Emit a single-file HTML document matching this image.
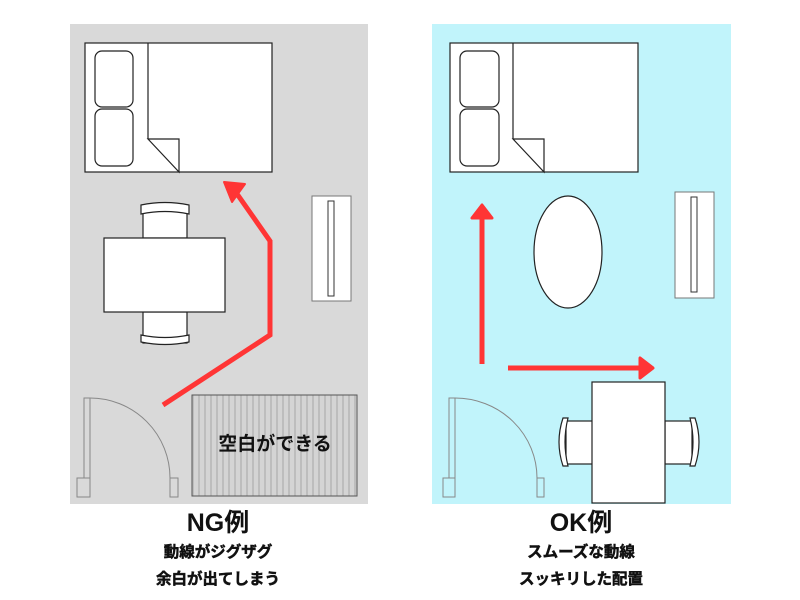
<!DOCTYPE html>
<html><head><meta charset="utf-8"><style>
body{margin:0;background:#fff;}
svg{display:block;}
text{font-family:"Liberation Sans","Noto Sans CJK JP",sans-serif;font-weight:bold;fill:#111;}
.sub{stroke:#111;stroke-width:0.5;}
</style></head><body>
<svg width="800" height="600" viewBox="0 0 800 600" xmlns="http://www.w3.org/2000/svg">
<defs>
<pattern id="hat" width="6" height="10" patternUnits="userSpaceOnUse">
<rect width="6" height="10" fill="#d4d4d4"/><rect width="2" height="10" fill="#bdbdbd"/>
</pattern>
</defs>
<rect x="70" y="24" width="298" height="480" fill="#d9d9d9"/>
<rect x="432" y="24" width="299" height="480" fill="#c1f4fb"/>

<!-- LEFT -->
<g stroke="#222" stroke-width="1.2" fill="#fff">
<rect x="85" y="43" width="187" height="129"/>
<line x1="148" y1="43" x2="148" y2="139"/>
<rect x="95" y="51" width="38" height="56" rx="7"/>
<rect x="95" y="109" width="38" height="57" rx="7"/>
<path d="M148 139 H179 V172 Z"/>
<rect x="143" y="207" width="44" height="31"/>
<path d="M141 205 Q165 200 189 205 V214 Q165 209 141 214 Z"/>
<rect x="143" y="312" width="44" height="31"/>
<path d="M141 342 Q165 347 189 342 V335 Q165 340 141 335 Z"/>
<rect x="104" y="238" width="121" height="74"/>
</g>
<rect x="312" y="196" width="39" height="105" fill="#fff" stroke="#777"/>
<rect x="328" y="201" width="6" height="95" fill="#fff" stroke="#333"/>
<g stroke="#888" fill="none" stroke-width="1">
<rect x="84" y="398" width="6" height="80"/>
<rect x="77" y="478" width="13" height="19"/>
<rect x="170" y="478" width="8" height="19"/>
<path d="M90 398 A80 80 0 0 1 170 478"/>
</g>
<rect x="192" y="395" width="165" height="101" fill="url(#hat)" stroke="#555"/>
<text x="275" y="450" font-size="19" text-anchor="middle">空白ができる</text>
<polyline points="163,405 270,335 270,241 235,191" fill="none" stroke="#ff3535" stroke-width="5"/>
<polygon points="224,182 245,184 232,202" fill="#ff3535" stroke="#ff3535" stroke-width="2" stroke-linejoin="round"/>

<!-- RIGHT -->
<g stroke="#222" stroke-width="1.2" fill="#fff">
<rect x="450" y="43" width="188" height="129"/>
<line x1="513" y1="43" x2="513" y2="139"/>
<rect x="460" y="51" width="39" height="56" rx="7"/>
<rect x="460" y="109" width="39" height="57" rx="7"/>
<path d="M513 139 H544 V172 Z"/>
<ellipse cx="568" cy="252" rx="34" ry="56"/>
<rect x="566" y="421" width="27" height="43"/>
<path d="M563 418 Q555 442 563 466 H568 Q562 442 568 418 Z"/>
<rect x="665" y="421" width="27" height="43"/>
<path d="M695 418 Q703 442 695 466 H690 Q696 442 690 418 Z"/>
<rect x="592" y="382" width="73" height="121"/>
</g>
<rect x="675" y="192" width="39" height="106" fill="#fff" stroke="#777"/>
<rect x="691" y="197" width="6" height="95" fill="#fff" stroke="#333"/>
<g stroke="#888" fill="none" stroke-width="1">
<rect x="449" y="398" width="6" height="80"/>
<rect x="443" y="478" width="12" height="19"/>
<rect x="537" y="478" width="7" height="19"/>
<path d="M455 398 A82 80 0 0 1 537 478"/>
</g>
<line x1="482" y1="364" x2="482" y2="215" stroke="#ff3535" stroke-width="5"/>
<polygon points="482,205 472,218 492,218" fill="#ff3535" stroke="#ff3535" stroke-width="3" stroke-linejoin="round"/>
<line x1="508" y1="368" x2="642" y2="368" stroke="#ff3535" stroke-width="5"/>
<polygon points="653,368 640,358 640,378" fill="#ff3535" stroke="#ff3535" stroke-width="3" stroke-linejoin="round"/>

<!-- labels -->
<text x="218" y="531" font-size="25" text-anchor="middle">NG例</text>
<text class="sub" x="218" y="557" font-size="15.5" text-anchor="middle">動線がジグザグ</text>
<text class="sub" x="218" y="584" font-size="15.5" text-anchor="middle">余白が出てしまう</text>
<text x="581" y="531" font-size="25" text-anchor="middle">OK例</text>
<text class="sub" x="581" y="557" font-size="15.5" text-anchor="middle">スムーズな動線</text>
<text class="sub" x="581" y="584" font-size="15.5" text-anchor="middle">スッキリした配置</text>
</svg>
</body></html>
